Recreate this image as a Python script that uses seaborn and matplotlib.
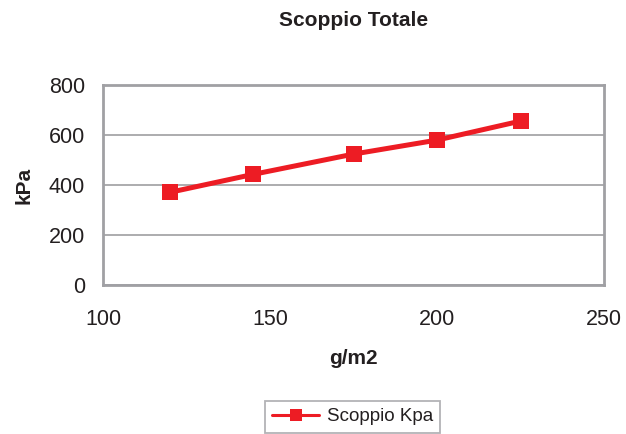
import pandas as pd
import numpy as np
import matplotlib
matplotlib.use('Agg')
import matplotlib.pyplot as plt
import seaborn as sns

# data
grammatura = [120, 145, 175, 200, 225]
scoppio = [371, 443, 524, 580, 656]
serie = 'Scoppio Kpa'

df = pd.DataFrame({'g/m2': grammatura, 'kPa': scoppio, 'serie': serie})

sns.set_style('white')
plt.rcParams['font.family'] = ['Liberation Sans', 'DejaVu Sans']

fig = plt.figure(figsize=(6.26, 4.34), dpi=100)
ax = fig.add_axes([0.1645, 0.343, 0.8005, 0.461])

red = '#ED1C24'
sns.lineplot(data=df, x='g/m2', y='kPa', hue='serie', palette=[red],
             marker='s', markersize=12, markeredgewidth=0, linewidth=3.6,
             ax=ax, legend=True)

ax.set_xlim(100, 250)
ax.set_ylim(0, 800)
ax.set_xticks([100, 150, 200, 250])
ax.set_yticks([0, 200, 400, 600, 800])
ax.yaxis.grid(True, color='#A6A6A8', linewidth=1.3)
ax.xaxis.grid(False)
for s in ax.spines.values():
    s.set_color('#A0A0A4')
    s.set_linewidth(2)
ax.tick_params(axis='both', length=5, width=1.5, color='#A0A0A4',
               labelsize=15.5, labelcolor='#231F20', direction='out')
ax.tick_params(axis='x', pad=12)
ax.tick_params(axis='y', pad=8)

ax.set_xlabel('g/m2', fontsize=15, fontweight='bold', color='#231F20', labelpad=14)
ax.set_ylabel('kPa', fontsize=15, fontweight='bold', color='#231F20', labelpad=11)
fig.text(0.565, 0.953, 'Scoppio Totale', ha='center', va='center',
         fontsize=15, fontweight='bold', color='#231F20')

leg = ax.legend(loc='center', bbox_to_anchor=(0.563, 0.040), bbox_transform=fig.transFigure,
                frameon=True, fancybox=False, fontsize=13.5, handlelength=2.5,
                borderpad=0.4, handletextpad=0.4)
leg.get_frame().set_edgecolor('#A0A0A4')
leg.get_frame().set_linewidth(1.3)
for t in leg.get_texts():
    t.set_color('#231F20')
for l in leg.get_lines():
    l.set_linewidth(2.2)
    l.set_markersize(8)

fig.savefig('out.png', dpi=100)
